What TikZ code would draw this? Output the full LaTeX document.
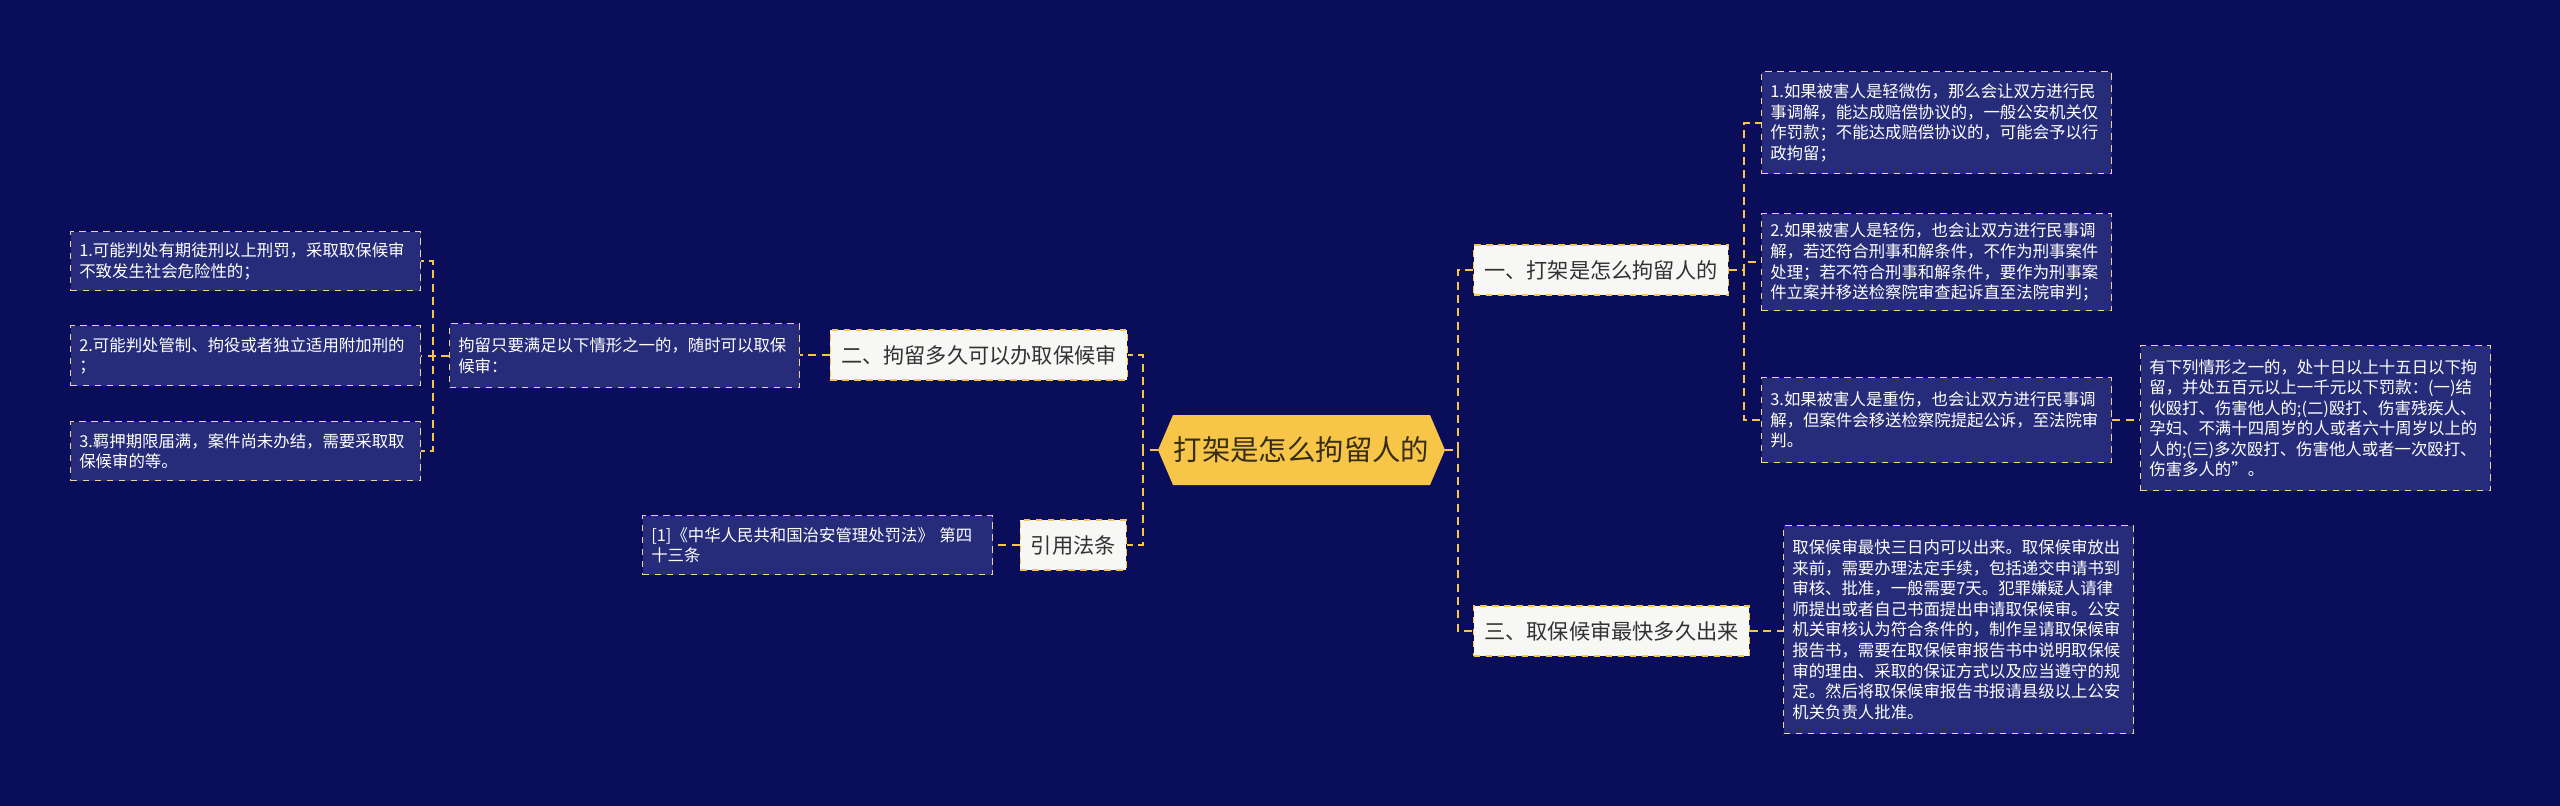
\documentclass[tikz,border=0pt]{standalone}
\usepackage{fontspec}
\newfontfamily\cjk{Noto Sans CJK SC}
\definecolor{bg}{RGB}{10,14,90}
\definecolor{leaffill}{RGB}{38,44,122}
\definecolor{leafline}{RGB}{240,212,140}
\definecolor{gold}{RGB}{247,197,72}
\definecolor{lvlfill}{RGB}{247,247,245}
\definecolor{lvltext}{RGB}{50,50,50}
\definecolor{ctext}{RGB}{55,45,20}
\tikzset{
 link/.style={draw=gold, line width=1.4pt, dash pattern=on 6pt off 4pt},
 leaf/.style={draw=leafline, line width=1pt, dash pattern=on 5pt off 4pt, fill=leaffill, text=white,
   font=\cjk\fontsize{12.3}{15.4}\selectfont, align=left, anchor=north west,
   inner xsep=6.5pt, inner ysep=0pt, text width=249.5pt},
 topic/.style={draw=gold, line width=1pt, dash pattern=on 5pt off 4pt, fill=lvlfill, text=lvltext,
   font=\cjk\fontsize{15.9}{18}\selectfont, inner xsep=8pt, inner ysep=0pt, minimum height=37.5pt},
 centre/.style={minimum width=215.25pt, minimum height=52.5pt, inner sep=0pt, text=ctext,
   font=\cjk\fontsize{21.3}{24}\selectfont},
}
\begin{document}
\begin{tikzpicture}[x=0.75pt,y=-0.75pt]
\useasboundingbox (0,0) rectangle (2560,806);
\fill[bg] (0,0) rectangle (2560,806);
% central hexagon
\fill[gold] (1158,450) -- (1173,415) -- (1430,415) -- (1445,450) -- (1430,485) -- (1173,485) -- cycle;
\node[centre] (c) at (1301.5,450) {打架是怎么拘留人的};
% topics
\node[topic, anchor=west] (t1) at (1473,270) {一、打架是怎么拘留人的};
\node[topic, anchor=west] (t3) at (1473,631) {三、取保候审最快多久出来};
\node[topic, anchor=east] (t2) at (1128,355) {二、拘留多久可以办取保候审};
\node[topic, anchor=east] (t4) at (1127,545) {引用法条};
% right leaves
\node[leaf, minimum height=76.5pt] (r1) at (1761,71) {1.如果被害人是轻微伤，那么会让双方进行民\\事调解，能达成赔偿协议的，一般公安机关仅\\作罚款；不能达成赔偿协议的，可能会予以行\\政拘留；};
\node[leaf, minimum height=72.75pt] (r2) at (1761,213) {2.如果被害人是轻伤，也会让双方进行民事调\\解，若还符合刑事和解条件，不作为刑事案件\\处理；若不符合刑事和解条件，要作为刑事案\\件立案并移送检察院审查起诉直至法院审判；};
\node[leaf, minimum height=63.75pt] (r3) at (1761,377) {3.如果被害人是重伤，也会让双方进行民事调\\解，但案件会移送检察院提起公诉，至法院审\\判。};
\node[leaf, minimum height=108.75pt] (r4) at (2140,345) {有下列情形之一的，处十日以上十五日以下拘\\留，并处五百元以上一千元以下罚款：(一)结\\伙殴打、伤害他人的;(二)殴打、伤害残疾人、\\孕妇、不满十四周岁的人或者六十周岁以上的\\人的;(三)多次殴打、伤害他人或者一次殴打、\\伤害多人的”。};
\node[leaf, minimum height=156pt] (r5) at (1783,525) {取保候审最快三日内可以出来。取保候审放出\\来前，需要办理法定手续，包括递交申请书到\\审核、批准，一般需要7天。犯罪嫌疑人请律\\师提出或者自己书面提出申请取保候审。公安\\机关审核认为符合条件的，制作呈请取保候审\\报告书，需要在取保候审报告书中说明取保候\\审的理由、采取的保证方式以及应当遵守的规\\定。然后将取保候审报告书报请县级以上公安\\机关负责人批准。};
% left leaves
\node[leaf, minimum height=44.25pt] (l1) at (70,231) {1.可能判处有期徒刑以上刑罚，采取取保候审\\不致发生社会危险性的；};
\node[leaf, minimum height=45pt] (l2) at (70,325) {2.可能判处管制、拘役或者独立适用附加刑的\\；};
\node[leaf, minimum height=44.25pt] (l3) at (70,421) {3.羁押期限届满，案件尚未办结，需要采取取\\保候审的等。};
\node[leaf, minimum height=48pt] (m) at (449,323) {拘留只要满足以下情形之一的，随时可以取保\\候审：};
\node[leaf, minimum height=44.25pt] (p) at (642,515) {[1]《中华人民共和国治安管理处罚法》 第四\\十三条};
% connectors
\draw[link] (c.west) -- ++(-15,0) |- (t2.east);
\draw[link] (c.west) -- ++(-15,0) |- (t4.east);
\draw[link] (c.east) -- ++(13,0) |- (t1.west);
\draw[link] (c.east) -- ++(13,0) |- (t3.west);
\draw[link] (t2.west) -- (t2.west -| m.east);
\draw[link] (t4.west) -- (t4.west -| p.east);
\draw[link] (m.west) -- ++(-16,0) |- (l1.east);
\draw[link] (m.west) -- ++(-16,0) |- (l2.east);
\draw[link] (m.west) -- ++(-16,0) |- (l3.east);
\draw[link] (t1.east) -- ++(15,0) |- (r1.west);
\draw[link] (t1.east) -- ++(15,0) |- (r2.west);
\draw[link] (t1.east) -- ++(15,0) |- (r3.west);
\draw[link] (r3.east) -- (r3.east -| r4.west);
\draw[link] (t3.east) -- (t3.east -| r5.west);
\end{tikzpicture}
\end{document}
